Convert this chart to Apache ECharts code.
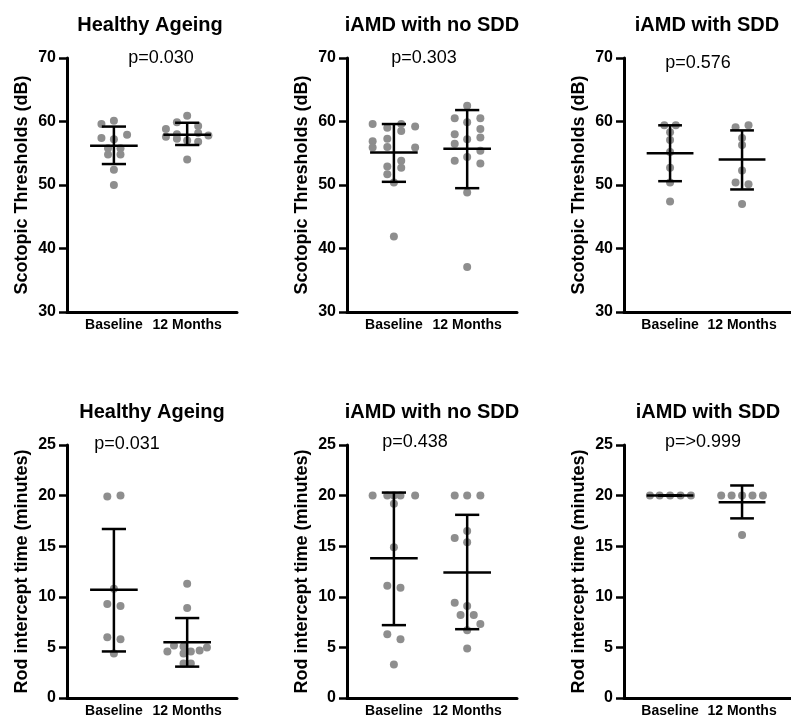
<!DOCTYPE html>
<html>
<head>
<meta charset="utf-8">
<title>Scotopic thresholds and rod intercept time</title>
<script src="https://cdn.jsdelivr.net/npm/echarts@6/dist/echarts.min.js"></script>
<style>
  html, body { margin: 0; padding: 0; background: #fff; }
  #chart { width: 791px; height: 718px; }
</style>
</head>
<body>
<div id="chart"></div>
<script>
// categories and labels
const groups = ['Baseline', '12 Months']
const panelTitles = ['Healthy Ageing', 'iAMD with no SDD', 'iAMD with SDD']
const scotopicP = ['p=0.030', 'p=0.303', 'p=0.576']
const rodP = ['p=0.031', 'p=0.438', 'p=>0.999']
const scotopicName = 'Scotopic Thresholds (dB)'
const rodName = 'Rod intercept time (minutes)'

// individual points: [horizontal jitter, value]
const scotHealthyBase = [[0, 60.1], [-0.17, 59.6], [-0.17, 57.4], [0, 57.2], [0.18, 57.9], [-0.08, 55.8], [0.09, 55.8], [-0.08, 54.8], [0.09, 54.8], [0, 52.4], [0, 50.0]]
const scotHealthy12 = [[0, 60.9], [-0.14, 59.9], [0.15, 59.3], [-0.29, 58.8], [-0.14, 58.0], [0.15, 58.2], [-0.29, 57.6], [0.29, 57.8], [0, 57.0], [0.15, 56.8], [-0.14, 57.3], [0, 54.0]]
const scotNoSddBase = [[-0.29, 59.6], [-0.09, 59.0], [0.1, 59.6], [0.29, 59.2], [0.1, 58.5], [-0.29, 56.9], [-0.09, 57.3], [-0.29, 55.9], [-0.09, 56.0], [0.29, 55.9], [0.1, 53.8], [-0.09, 52.9], [0.1, 52.7], [-0.09, 51.7], [0, 50.4], [0, 41.9]]
const scotNoSdd12 = [[0, 62.5], [-0.17, 60.5], [0.18, 60.5], [0, 59.9], [0.18, 58.8], [-0.17, 58.0], [0.18, 57.5], [0, 57.2], [-0.17, 56.5], [0.18, 55.4], [0, 54.4], [-0.17, 53.8], [0.18, 53.4], [0, 48.8], [0, 37.1]]
const scotSddBase = [[-0.08, 59.4], [0.08, 59.4], [0, 58.3], [0, 57.1], [0, 55.2], [0, 52.7], [0, 50.4], [0, 47.4]]
const scotSdd12 = [[-0.09, 59.1], [0.09, 59.4], [0, 57.4], [0, 56.3], [0, 52.3], [-0.09, 50.4], [0.09, 50.1], [0, 47.0]]

const rodHealthyBase = [[-0.09, 19.9], [0.09, 20.0], [0, 10.8], [-0.09, 9.3], [0.09, 9.1], [-0.09, 6.0], [0.09, 5.8], [0, 4.4]]
const rodHealthy12 = [[0, 11.3], [0, 8.9], [-0.18, 5.2], [-0.05, 5.1], [-0.27, 4.6], [-0.05, 4.4], [0.05, 4.6], [0.17, 4.7], [0.27, 5.0], [-0.05, 3.4], [0.05, 3.4]]
const rodNoSddBase = [[-0.29, 20], [-0.09, 20], [0, 20], [0.09, 20], [0.29, 20], [0, 19.2], [0, 14.9], [-0.09, 11.1], [0.09, 10.9], [-0.09, 6.3], [0.09, 5.8], [0, 3.3]]
const rodNoSdd12 = [[-0.17, 20], [0, 20], [0.18, 20], [0, 16.5], [-0.17, 15.8], [0, 15.4], [-0.17, 9.4], [0, 9.1], [-0.09, 8.2], [0.09, 8.2], [0.18, 7.3], [0, 6.7], [0, 4.9]]
const rodSddBase = [[-0.28, 20], [-0.145, 20], [0, 20], [0.145, 20], [0.29, 20]]
const rodSdd12 = [[-0.29, 20], [-0.145, 20], [0, 20], [0.145, 20], [0.29, 20], [0, 16.1]]

// mean, lower (mean - SD), upper (mean + SD) for Baseline and 12 Months
const scotHealthyStats = [[56.2, 53.3, 59.2], [57.9, 56.3, 59.8]]
const scotNoSddStats = [[55.1, 50.5, 59.6], [55.7, 49.5, 61.8]]
const scotSddStats = [[55.0, 50.6, 59.4], [54.0, 49.3, 58.6]]
const rodHealthyStats = [[10.7, 4.6, 16.7], [5.5, 3.1, 7.9]]
const rodNoSddStats = [[13.8, 7.2, 20.3], [12.4, 6.8, 18.1]]
const rodSddStats = [[20, 20, 20], [19.35, 17.75, 21.0]]

// y ticks
const scotopicTicks = { min: 30, max: 70, interval: 10 }
const rodTicks = { min: 0, max: 25, interval: 5 }

const panels = [
  { base: scotHealthyBase, m12: scotHealthy12, stats: scotHealthyStats, title: panelTitles[0], p: scotopicP[0], name: scotopicName, ticks: scotopicTicks },
  { base: scotNoSddBase, m12: scotNoSdd12, stats: scotNoSddStats, title: panelTitles[1], p: scotopicP[1], name: scotopicName, ticks: scotopicTicks },
  { base: scotSddBase, m12: scotSdd12, stats: scotSddStats, title: panelTitles[2], p: scotopicP[2], name: scotopicName, ticks: scotopicTicks },
  { base: rodHealthyBase, m12: rodHealthy12, stats: rodHealthyStats, title: panelTitles[0], p: rodP[0], name: rodName, ticks: rodTicks },
  { base: rodNoSddBase, m12: rodNoSdd12, stats: rodNoSddStats, title: panelTitles[1], p: rodP[1], name: rodName, ticks: rodTicks },
  { base: rodSddBase, m12: rodSdd12, stats: rodSddStats, title: panelTitles[2], p: rodP[2], name: rodName, ticks: rodTicks }
]

// layout
const FONT = '"Liberation Sans", Arial, Helvetica, sans-serif'
const colLeft = [67, 347, 624]
const rowTop = [58, 445]
const rowHeight = [254, 255]
const titlePos = [[150, 25], [432, 25], [707, 25], [152, 412], [432, 412], [708, 412]]
const pPos = [[161, 58], [424, 58], [698, 63], [127, 444], [415, 442], [703, 442]]
const MEAN_HALF = 0.325
const CAP_HALF = 0.165

const chart = echarts.init(document.getElementById('chart'), null, { renderer: 'canvas' })

function renderStats(params, api) {
  const x = api.value(0)
  const mean = api.value(1)
  const lo = api.value(2)
  const hi = api.value(3)
  const style = { stroke: '#000', lineWidth: 2.5 }
  const seg = (a, b) => ({ type: 'line', shape: { x1: a[0], y1: a[1], x2: b[0], y2: b[1] }, style })
  return {
    type: 'group',
    children: [
      seg(api.coord([x, lo]), api.coord([x, hi])),
      seg(api.coord([x - CAP_HALF, hi]), api.coord([x + CAP_HALF, hi])),
      seg(api.coord([x - CAP_HALF, lo]), api.coord([x + CAP_HALF, lo])),
      seg(api.coord([x - MEAN_HALF, mean]), api.coord([x + MEAN_HALF, mean]))
    ]
  }
}

const grid = []
const xAxis = []
const yAxis = []
const series = []
const graphic = []

panels.forEach((p, i) => {
  const row = Math.floor(i / 3)
  const col = i % 3
  grid.push({ left: colLeft[col], top: rowTop[row], width: 170, height: rowHeight[row] })
  xAxis.push({
    type: 'value',
    gridIndex: i,
    min: -0.64,
    max: 1.68,
    splitLine: { show: false },
    axisTick: { show: false },
    axisLine: { show: true, onZero: false, lineStyle: { color: '#000', width: 3 } },
    axisLabel: {
      customValues: [0, 1],
      formatter: (v) => groups[Math.round(v)],
      color: '#000',
      fontFamily: FONT,
      fontWeight: 'bold',
      fontSize: 14,
      margin: 6
    }
  })
  yAxis.push({
    type: 'value',
    gridIndex: i,
    min: p.ticks.min,
    max: p.ticks.max,
    interval: p.ticks.interval,
    name: p.name,
    nameLocation: 'middle',
    nameGap: 36,
    nameMoveOverlap: false,
    nameTextStyle: { color: '#000', fontFamily: FONT, fontWeight: 'bold', fontSize: 18 },
    splitLine: { show: false },
    axisLine: { show: true, onZero: false, lineStyle: { color: '#000', width: 3 } },
    axisTick: { show: true, length: 8, lineStyle: { color: '#000', width: 2.5 } },
    axisLabel: { color: '#000', fontFamily: FONT, fontWeight: 'bold', fontSize: 16, margin: 11 }
  })
  series.push({
    type: 'scatter',
    xAxisIndex: i,
    yAxisIndex: i,
    symbolSize: 8,
    itemStyle: { color: '#8e8e8e', opacity: 1 },
    data: p.base.map((d) => [d[0], d[1]]).concat(p.m12.map((d) => [1 + d[0], d[1]])),
    z: 2
  })
  series.push({
    type: 'custom',
    xAxisIndex: i,
    yAxisIndex: i,
    renderItem: renderStats,
    data: p.stats.map((s, k) => [k, s[0], s[1], s[2]]),
    z: 3
  })
  graphic.push({
    type: 'text',
    x: titlePos[i][0],
    y: titlePos[i][1],
    style: {
      text: p.title,
      fill: '#000',
      font: 'bold 20px ' + FONT,
      textAlign: 'center',
      textVerticalAlign: 'middle',
      align: 'center',
      verticalAlign: 'middle'
    }
  })
  graphic.push({
    type: 'text',
    x: pPos[i][0],
    y: pPos[i][1],
    style: {
      text: p.p,
      fill: '#000',
      font: '18px ' + FONT,
      textAlign: 'center',
      textVerticalAlign: 'middle',
      align: 'center',
      verticalAlign: 'middle'
    }
  })
})

chart.setOption({
  animation: false,
  backgroundColor: '#fff',
  grid,
  xAxis,
  yAxis,
  series,
  graphic
})

window.addEventListener('resize', () => chart.resize())
</script>
</body>
</html>
